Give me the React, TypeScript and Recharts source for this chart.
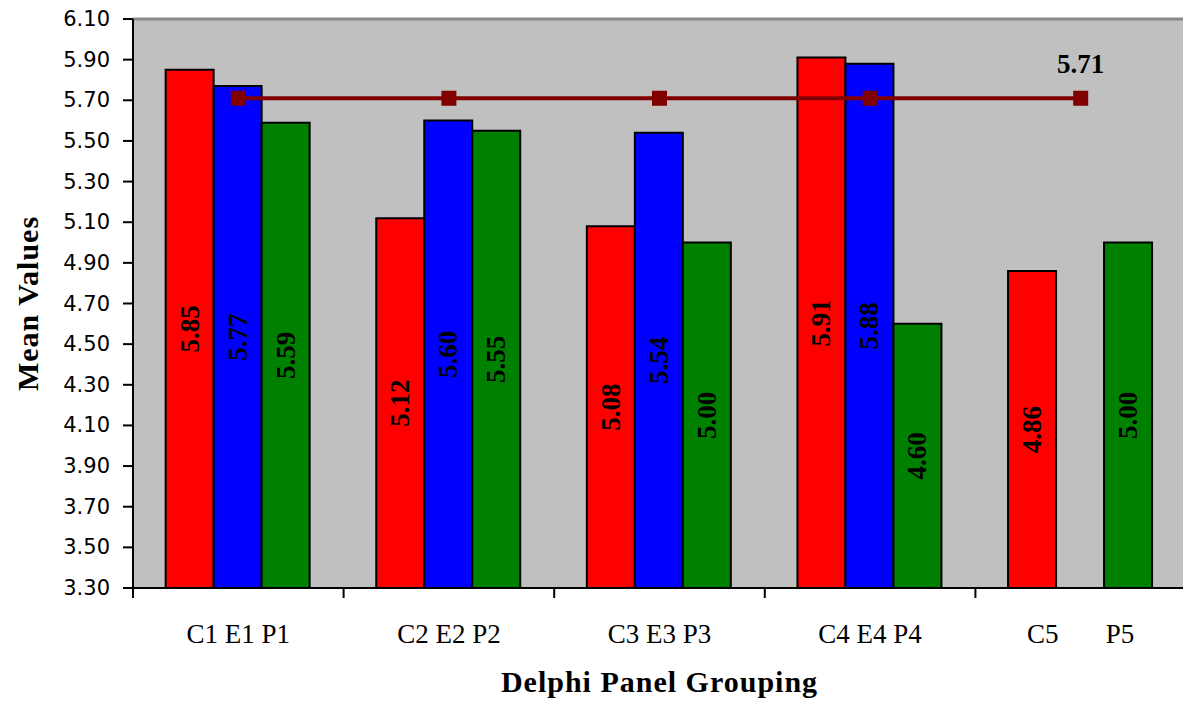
import React from 'react'
import {
  ComposedChart,
  Bar,
  Line,
  XAxis,
  YAxis,
  CartesianGrid,
  ReferenceLine,
  LabelList,
  Label
} from 'recharts'

// panel groups, each group holds C / E / P means
const categories = ['C1 E1 P1', 'C2 E2 P2', 'C3 E3 P3', 'C4 E4 P4', 'C5       P5']
const cValues = [5.85, 5.12, 5.08, 5.91, 4.86]
const eValues: (number | null)[] = [5.77, 5.6, 5.54, 5.88, null]
const pValues = [5.59, 5.55, 5.0, 4.6, 5.0]
const overallMean = [5.71, 5.71, 5.71, 5.71, 5.71]
const yTicks = [3.3, 3.5, 3.7, 3.9, 4.1, 4.3, 4.5, 4.7, 4.9, 5.1, 5.3, 5.5, 5.7, 5.9, 6.1]

const data = categories.map((name, i) => ({
  name,
  c: cValues[i],
  e: eValues[i],
  p: pValues[i],
  mean: overallMean[i]
}))

const W = 1186
const H = 707
const LEFT = 133
const TOP = 19
const XAXIS_H = 119
const BAND = (W - LEFT) / categories.length

const serif = '"Liberation Serif", "Times New Roman", serif'

const BarValue = (props: any) => {
  const { x, y, width, height, value } = props
  if (value === null || value === undefined) return null
  const cx = x + width / 2
  const cy = y + height / 2
  return (
    <text
      x={cx}
      y={cy}
      transform={`rotate(-90, ${cx}, ${cy})`}
      textAnchor="middle"
      dominantBaseline="central"
      fontFamily={serif}
      fontWeight="bold"
      fontSize={27}
      fill="#000"
    >
      {Number(value).toFixed(2)}
    </text>
  )
}

const MeanValue = (props: any) => {
  const { x, y, value, index } = props
  if (index !== overallMean.length - 1) return null
  return (
    <text x={x} y={y - 25} textAnchor="middle" fontFamily={serif} fontWeight="bold" fontSize={27} fill="#000">
      {Number(value).toFixed(2)}
    </text>
  )
}

const SquareDot = (props: any) => {
  const { cx, cy } = props
  return <rect x={cx - 7.5} y={cy - 7.5} width={15} height={15} fill="#800000" />
}

const XTick = (props: any) => {
  const { x, y, payload } = props
  return (
    <g>
      <line x1={x - BAND / 2} x2={x - BAND / 2} y1={y} y2={y + 10} stroke="#000" strokeWidth={2} />
      <text
        x={x}
        y={y + 55}
        textAnchor="middle"
        fontFamily={serif}
        fontSize={27}
        fill="#000"
        style={{ whiteSpace: 'pre' }}
      >
        {payload.value}
      </text>
    </g>
  )
}

const YTick = (props: any) => {
  const { x, y, payload } = props
  return (
    <text
      x={x}
      y={y}
      textAnchor="end"
      dominantBaseline="central"
      fontFamily='"DejaVu Sans", sans-serif'
      fontSize={21}
      fill="#000"
    >
      {Number(payload.value).toFixed(2)}
    </text>
  )
}

export default function App() {
  return (
    <div style={{ position: 'absolute', left: 0, top: 0, width: 1183, height: H, overflow: 'hidden', background: '#fff' }}>
      <ComposedChart
        width={W}
        height={H}
        data={data}
        margin={{ top: TOP, right: 0, bottom: 0, left: 0 }}
        barCategoryGap="15.5%"
        barGap={0}
      >
        <CartesianGrid horizontal={false} vertical={false} fill="#c0c0c0" />
        <ReferenceLine y={6.1} stroke="#8a8a8a" strokeWidth={3} />
        <XAxis
          dataKey="name"
          height={XAXIS_H}
          interval={0}
          tickLine={false}
          tickSize={0}
          tickMargin={0}
          axisLine={{ stroke: '#000', strokeWidth: 2 }}
          tick={<XTick />}
        >
          <Label
            content={(p: any) => (
              <text
                x={p.viewBox.x + p.viewBox.width / 2}
                y={692}
                textAnchor="middle"
                fontFamily={serif}
                fontWeight="bold"
                fontSize={30}
                letterSpacing={1}
                fill="#000"
              >
                Delphi Panel Grouping
              </text>
            )}
          />
        </XAxis>
        <YAxis
          width={LEFT}
          domain={[3.3, 6.1]}
          ticks={yTicks}
          interval={0}
          allowDataOverflow
          tickSize={10}
          tickMargin={13}
          tick={<YTick />}
          tickLine={{ stroke: '#000', strokeWidth: 2 }}
          axisLine={{ stroke: '#000', strokeWidth: 2 }}
        >
          <Label
            content={(p: any) => {
              const cx = 27
              const cy = p.viewBox.y + p.viewBox.height / 2
              return (
                <text
                  x={cx}
                  y={cy}
                  transform={`rotate(-90, ${cx}, ${cy})`}
                  textAnchor="middle"
                  dominantBaseline="central"
                  fontFamily={serif}
                  fontWeight="bold"
                  fontSize={30}
                  letterSpacing={1}
                  fill="#000"
                >
                  Mean Values
                </text>
              )
            }}
          />
        </YAxis>
        <Bar dataKey="c" fill="#ff0000" stroke="#000" strokeWidth={2} isAnimationActive={false}>
          <LabelList dataKey="c" content={<BarValue />} />
        </Bar>
        <Bar dataKey="e" fill="#0000ff" stroke="#000" strokeWidth={2} isAnimationActive={false}>
          <LabelList dataKey="e" content={<BarValue />} />
        </Bar>
        <Bar dataKey="p" fill="#008000" stroke="#000" strokeWidth={2} isAnimationActive={false}>
          <LabelList dataKey="p" content={<BarValue />} />
        </Bar>
        <Line
          dataKey="mean"
          stroke="#800000"
          strokeWidth={4}
          dot={<SquareDot />}
          activeDot={false}
          isAnimationActive={false}
        >
          <LabelList dataKey="mean" content={<MeanValue />} />
        </Line>
      </ComposedChart>
    </div>
  )
}
